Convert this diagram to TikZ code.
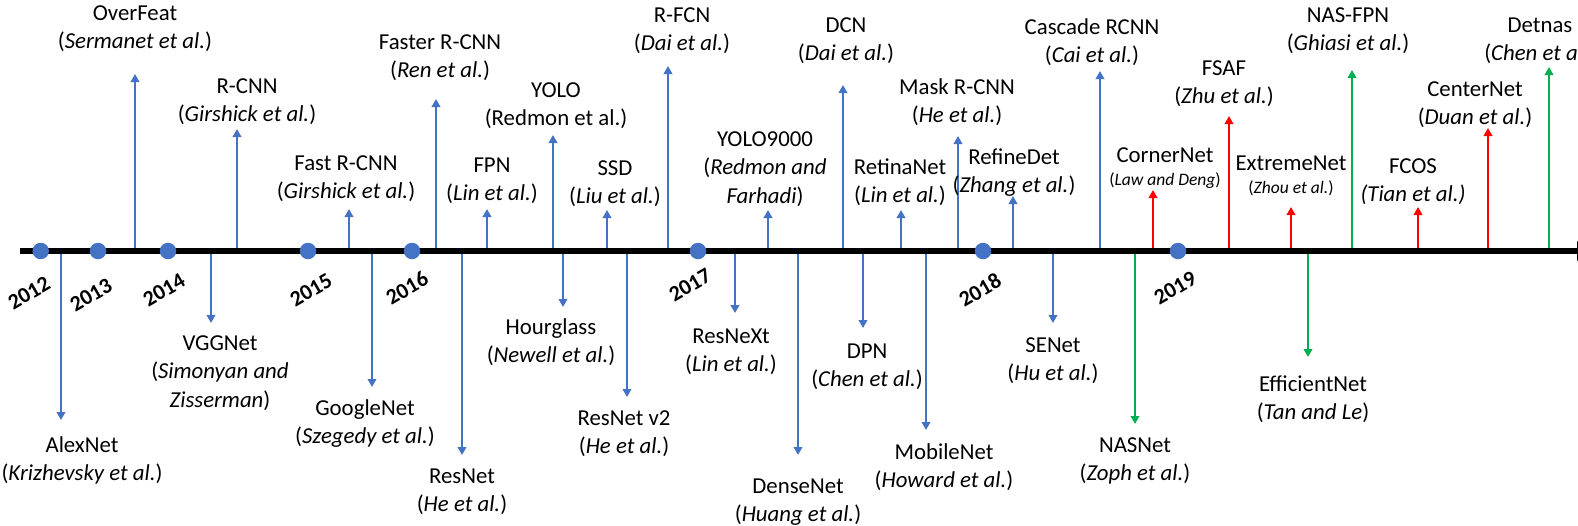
\documentclass[tikz,border=0pt]{standalone}
\usepackage{fontspec}
\setmainfont{Carlito}
\usetikzlibrary{arrows.meta}
\definecolor{ablue}{HTML}{4472C4}
\definecolor{ared}{HTML}{FF0000}
\definecolor{agreen}{HTML}{00B050}
\tikzset{
  axisline/.style={line width=6.5pt,draw=black,-{Triangle[length=20pt,width=18pt]}},
  yeardot/.style={circle,fill=ablue,draw=none,inner sep=0pt,minimum size=16.5pt},
  yearlbl/.style={font=\bfseries\fontsize{22}{24}\selectfont,rotate=30,inner sep=0pt,anchor=center},
  evarrow/.style={line width=2.8pt,-{Triangle[length=8pt,width=8.5pt]}},
  lbl/.style={font=\fontsize{22.8}{27}\selectfont,anchor=base,inner sep=0pt},
  smalllbl/.style={font=\fontsize{17.5}{20}\selectfont,anchor=base,inner sep=0pt},
}
\newcommand\tlevent[8]{%
  \coordinate (#1base) at (#3,251);
  \coordinate (#1tip) at (#3,#4);
  \draw[evarrow,#2] (#1base) -- (#1tip);
  \node[lbl] (#1name) at (#5,#6) {#7};
  \node[lbl] (#1ref) at (#5,{#6+28.5}) {#8};
}
\newcommand\tlarrow[4]{%
  \coordinate (#1base) at (#3,251);
  \coordinate (#1tip) at (#3,#4);
  \draw[evarrow,#2] (#1base) -- (#1tip);
}
\begin{document}
\begin{tikzpicture}[x=1pt,y=-1pt]
\clip (0,0) rectangle (1578,525);
\fill[white] (0,0) rectangle (1578,525);
% ---- upward events
\tlevent{overfeat}{ablue}{135}{74}{135}{20}{OverFeat}{(\textit{Sermanet et al.})}
\tlevent{rcnn}{ablue}{237}{129}{247}{93}{R-CNN}{(\textit{Girshick et al.})}
\tlevent{fastrcnn}{ablue}{349}{209}{346}{170}{Fast R-CNN}{(\textit{Girshick et al.})}
\tlevent{fasterrcnn}{ablue}{436}{99}{440}{49}{Faster R-CNN}{(\textit{Ren et al.})}
\tlevent{fpn}{ablue}{487}{209}{492}{172}{FPN}{(\textit{Lin et al.})}
\tlevent{yolo}{ablue}{553}{135}{556}{97}{YOLO}{(Redmon et al.)}
\tlevent{ssd}{ablue}{607}{210}{615}{175}{SSD}{(\textit{Liu et al.})}
\tlevent{rfcn}{ablue}{668}{66}{682}{22}{R-FCN}{(\textit{Dai et al.})}
\tlevent{yolonk}{ablue}{768}{210}{765}{146}{YOLO9000}{(\textit{Redmon and}}
\node[lbl] (yolonkref) at (765,203) {\textit{Farhadi})};
\tlevent{dcn}{ablue}{843}{85}{846}{32}{DCN}{(\textit{Dai et al.})}
\tlevent{retina}{ablue}{901}{210}{900}{174}{RetinaNet}{(\textit{Lin et al.})}
\tlevent{maskrcnn}{ablue}{958}{136}{957}{94}{Mask R-CNN}{(\textit{He et al.})}
\tlevent{refinedet}{ablue}{1013}{196}{1014}{164}{RefineDet}{(\textit{Zhang et al.})}
\tlevent{cascade}{ablue}{1100}{71}{1092}{34}{Cascade RCNN}{(\textit{Cai et al.})}
\tlarrow{corner}{ared}{1153}{190}
\node[lbl] (cornername) at (1165,162) {CornerNet};
\node[smalllbl] (cornerref) at (1165,185) {(\textit{Law and Deng})};
\tlevent{fsaf}{ared}{1229}{116}{1224}{75}{FSAF}{(\textit{Zhu et al.})}
\tlarrow{extreme}{ared}{1291}{207}
\node[lbl] (extremename) at (1291,170) {ExtremeNet};
\node[smalllbl] (extremeref) at (1291,193) {(\textit{Zhou et al.})};
\tlevent{nasfpn}{agreen}{1352}{70}{1348}{22}{NAS-FPN}{(\textit{Ghiasi et al.})}
\tlevent{fcos}{ared}{1418}{207}{1413}{173}{FCOS}{\textit{(Tian et al.)}}
\tlevent{centernet}{ared}{1488}{128}{1475}{96}{CenterNet}{(\textit{Duan et al.})}
\tlevent{detnas}{agreen}{1549}{67}{1540}{32}{Detnas}{(\textit{Chen et al.})}
% ---- downward events
\tlevent{alexnet}{ablue}{61}{420}{82}{452}{AlexNet}{(\textit{Krizhevsky et al.})}
\tlevent{vggnet}{ablue}{211}{323}{220}{350}{VGGNet}{(\textit{Simonyan and}}
\node[lbl] (vggnetrefb) at (220,407) {\textit{Zisserman})};
\tlevent{googlenet}{ablue}{372}{387}{365}{415}{GoogleNet}{(\textit{Szegedy et al.})}
\tlevent{resnet}{ablue}{462}{455}{462}{483}{ResNet}{(\textit{He et al.})}
\tlevent{hourglass}{ablue}{563}{307}{551}{334}{Hourglass}{(\textit{Newell et al.})}
\tlevent{resnettwo}{ablue}{627}{397}{624}{425}{ResNet v2}{(\textit{He et al.})}
\tlevent{resnext}{ablue}{735}{313}{731}{343}{ResNeXt}{(\textit{Lin et al.})}
\tlevent{densenet}{ablue}{798}{455}{798}{493}{DenseNet}{(\textit{Huang et al.})}
\tlevent{dpn}{ablue}{863}{328}{867}{358}{DPN}{(\textit{Chen et al.})}
\tlevent{mobilenet}{ablue}{926}{430}{944}{459}{MobileNet}{(\textit{Howard et al.})}
\tlevent{senet}{ablue}{1053}{323}{1053}{352}{SENet}{(\textit{Hu et al.})}
\tlevent{nasnet}{agreen}{1135}{424}{1135}{452}{NASNet}{(\textit{Zoph et al.})}
\tlevent{efficientnet}{agreen}{1308}{357}{1313}{391}{EfficientNet}{(\textit{Tan and Le})}
% ---- axis
\coordinate (axisstart) at (20,251);
\coordinate (axisend) at (1597,251);
\draw[axisline] (axisstart) -- (axisend);
% ---- years
\node[yeardot] (dA) at (40.7,251) {};
\node[yeardot] (dB) at (98,251) {};
\node[yeardot] (dC) at (168,251) {};
\node[yeardot] (dD) at (308,251) {};
\node[yeardot] (dE) at (412,251) {};
\node[yeardot] (dF) at (698,251) {};
\node[yeardot] (dG) at (983,251) {};
\node[yeardot] (dH) at (1178,251) {};
\node[yearlbl] (yA) at (29,293) {2012};
\node[yearlbl] (yB) at (91,295) {2013};
\node[yearlbl] (yC) at (164,290) {2014};
\node[yearlbl] (yD) at (311,290) {2015};
\node[yearlbl] (yE) at (407,288) {2016};
\node[yearlbl] (yF) at (690,285) {2017};
\node[yearlbl] (yG) at (980,290) {2018};
\node[yearlbl] (yH) at (1175,288) {2019};
\end{tikzpicture}
\end{document}
